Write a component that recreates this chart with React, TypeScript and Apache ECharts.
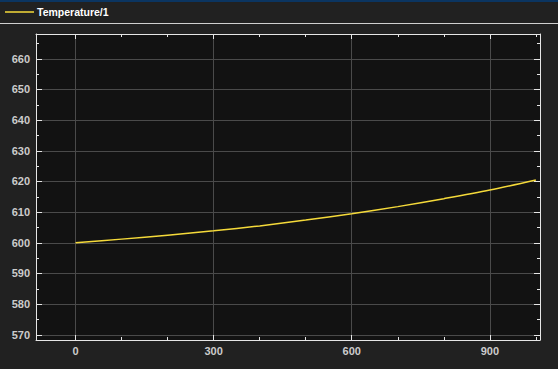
import React, { useEffect, useRef } from "react";
import * as echarts from "echarts";

const seriesName = "Temperature/1";
const timeValues = [0, 100, 200, 300, 400, 500, 600, 700, 800, 900, 1000];
const temperatureValues = [600.0, 601.2, 602.5, 603.9, 605.5, 607.4, 609.5, 611.8, 614.4, 617.2, 620.5];
const xMajorTicks = [0, 300, 600, 900];
const xMinorTicks = [100, 200, 400, 500, 700, 800, 1000];
const yMajorTicks = [570, 580, 590, 600, 610, 620, 630, 640, 650, 660];
const yMinorTicks = [575, 585, 595, 605, 615, 625, 635, 645, 655, 665];
const xRange = [-86, 1009];
const yRange = [568.3, 668.1];

const AXIS_COLOR = "#e6e6e6";
const GRID_COLOR = "#4a4a4a";
const LABEL_COLOR = "#cccccc";
const LINE_COLOR = "#f5da3a";

function makeX(position: string, major: boolean, labels: boolean) {
  return {
    type: "value",
    position,
    min: xRange[0],
    max: xRange[1],
    axisLine: { show: major, onZero: false, lineStyle: { color: AXIS_COLOR, width: 1 } },
    axisTick: {
      show: true,
      inside: true,
      length: major ? 5 : 3,
      customValues: major ? xMajorTicks : xMinorTicks,
      lineStyle: { color: AXIS_COLOR, width: 1 },
    },
    axisLabel: {
      show: labels,
      customValues: xMajorTicks,
      color: LABEL_COLOR,
      fontSize: 11,
      fontWeight: "bold",
      fontFamily: "Liberation Sans, Arial, sans-serif",
      margin: 5,
    },
    splitLine: {
      show: major && labels,
      lineStyle: { color: GRID_COLOR, width: 1 },
    },
  };
}

function makeY(position: string, major: boolean, labels: boolean) {
  return {
    type: "value",
    position,
    min: yRange[0],
    max: yRange[1],
    axisLine: { show: major, onZero: false, lineStyle: { color: AXIS_COLOR, width: 1 } },
    axisTick: {
      show: true,
      inside: true,
      length: major ? 6 : 3,
      customValues: major ? yMajorTicks : yMinorTicks,
      lineStyle: { color: AXIS_COLOR, width: 1 },
    },
    axisLabel: {
      show: labels,
      customValues: yMajorTicks,
      color: LABEL_COLOR,
      fontSize: 11,
      fontWeight: "bold",
      fontFamily: "Liberation Sans, Arial, sans-serif",
      margin: 6,
    },
    splitLine: {
      show: major && labels,
      lineStyle: { color: GRID_COLOR, width: 1 },
    },
  };
}

export default function App() {
  const ref = useRef<HTMLDivElement>(null);

  useEffect(() => {
    if (!ref.current) return;
    const chart = echarts.init(ref.current, null, { renderer: "svg" });
    const data = timeValues.map((t, i) => [t, temperatureValues[i]]);
    chart.setOption({
      animation: false,
      backgroundColor: "#212121",
      grid: {
        left: 36,
        right: 18,
        top: 34,
        bottom: 29,
        containLabel: false,
        outerBoundsMode: "none",
        show: true,
        backgroundColor: "#121212",
        borderWidth: 0,
      },
      xAxis: [
        makeX("bottom", true, true),
        makeX("bottom", false, false),
        makeX("top", true, false),
        makeX("top", false, false),
      ],
      yAxis: [
        makeY("left", true, true),
        makeY("left", false, false),
        makeY("right", true, false),
        makeY("right", false, false),
      ],
      series: [
        {
          name: seriesName,
          type: "line",
          xAxisIndex: 0,
          yAxisIndex: 0,
          data,
          smooth: 0.3,
          showSymbol: false,
          lineStyle: { color: LINE_COLOR, width: 1.5 },
        },
      ],
      graphic: [
        {
          type: "rect",
          shape: { x: 0, y: 0, width: 558, height: 2 },
          style: { fill: "#0b3561" },
          silent: true,
        },
        {
          type: "line",
          shape: { x1: 0, y1: 23.5, x2: 558, y2: 23.5 },
          style: { stroke: "#cfcfcf", lineWidth: 1 },
          silent: true,
        },
        {
          type: "line",
          shape: { x1: 5, y1: 12, x2: 34, y2: 12 },
          style: { stroke: LINE_COLOR, lineWidth: 1.5 },
          silent: true,
        },
        {
          type: "text",
          x: 37,
          y: 12,
          style: {
            text: seriesName,
            fill: "#ffffff",
            fontSize: 10.5,
            fontWeight: "bold",
            fontFamily: "Liberation Sans, Arial, sans-serif",
            verticalAlign: "middle",
            align: "left",
          },
          silent: true,
        },
      ],
    });
    return () => chart.dispose();
  }, []);

  return (
    <div
      ref={ref}
      style={{ position: "fixed", left: 0, top: 0, width: 558, height: 369 }}
    />
  );
}
